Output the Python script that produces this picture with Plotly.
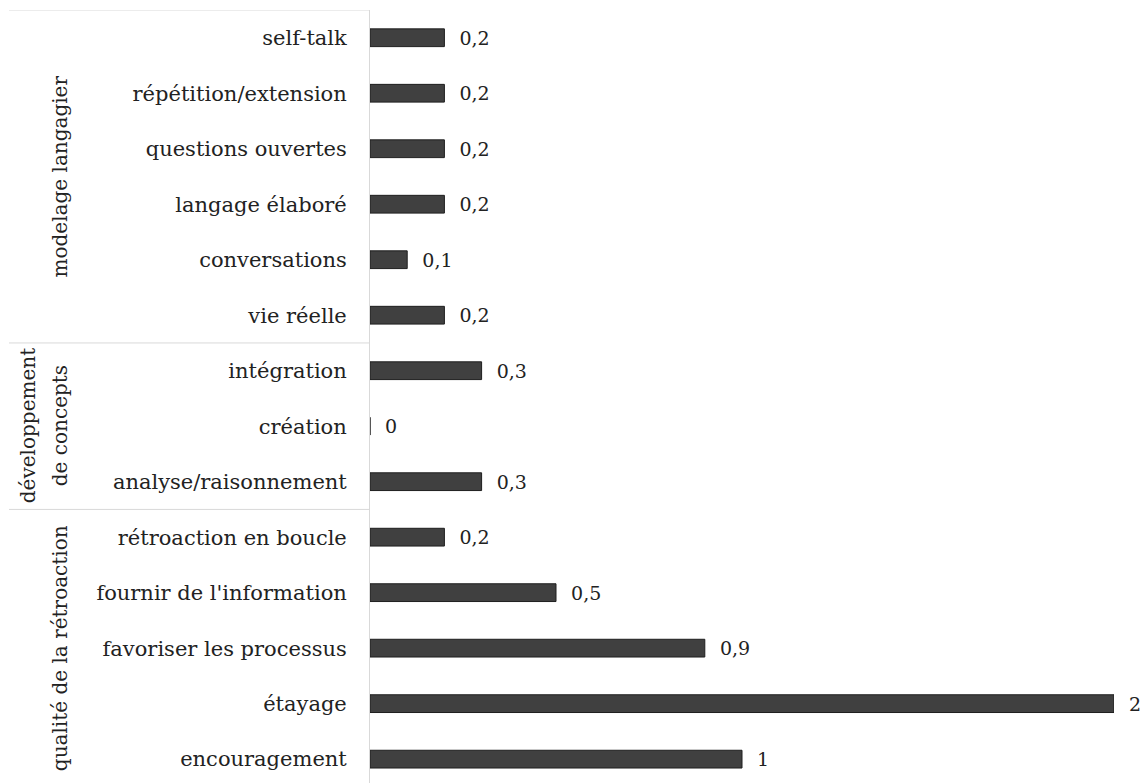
import plotly.graph_objects as go

categories = ["self-talk", "répétition/extension", "questions ouvertes", "langage élaboré",
              "conversations", "vie réelle", "intégration", "création", "analyse/raisonnement",
              "rétroaction en boucle", "fournir de l'information", "favoriser les processus",
              "étayage", "encouragement"]
values = [0.2, 0.2, 0.2, 0.2, 0.1, 0.2, 0.3, 0, 0.3, 0.2, 0.5, 0.9, 2, 1]
groups = [["modelage langagier"], ["développement", "de concepts"], ["qualité de la rétroaction"]]
group_sizes = [6, 3, 5]

def fmt(v):
    s = ("%g" % v).replace(".", ",")
    return "\u00a0\u00a0" + s

OFF = 8  # browser body margin
W, H = 1148 - OFF, 783 - OFF
L, R, T, B = 370 - OFF, 34, 10 - OFF, 0
pw = W - L - R

font = "DejaVu Serif"
ypos = list(range(len(categories)))

fig = go.Figure(go.Bar(
    x=values, y=ypos, orientation="h",
    width=0.32,
    marker=dict(color="#404040", line=dict(color="#1e1e1e", width=1)),
    text=[fmt(v) for v in values], textposition="outside", cliponaxis=False,
    constraintext="none",
    textfont=dict(family=font, size=19, color="#222222"),
))

fig.update_layout(
    width=W, height=H, margin=dict(l=L, r=R, t=T, b=B),
    plot_bgcolor="white", paper_bgcolor="white", showlegend=False,
    font=dict(family=font, size=20, color="#222222"),
    xaxis=dict(range=[0, 2], visible=False, showgrid=False, zeroline=False),
    yaxis=dict(range=[13.43, -0.5], tickvals=ypos, ticktext=categories,
               showgrid=False, zeroline=False, showline=True, linecolor="#d9d9d9",
               linewidth=1, ticks="", ticklabelstandoff=18,
               tickfont=dict(family=font, size=21, color="#222222")),
)

# group separators and labels
x0 = (9 - OFF - L) / pw
start = -0.5
for lines, n in zip(groups, group_sizes):
    fig.add_shape(type="line", xref="paper", yref="y", x0=x0, x1=0, y0=start, y1=start,
                  line=dict(color="#d9d9d9", width=1))
    mid = start + n / 2
    xs = [60] if len(lines) == 1 else [28, 60]
    for line_text, px in zip(lines, xs):
        fig.add_annotation(text=line_text, xref="paper", yref="y", x=(px - OFF - L) / pw, y=mid,
                           textangle=-90, showarrow=False, xanchor="center", yanchor="middle",
                           font=dict(family=font, size=20, color="#222222"))
    start += n

fig.write_html("out.html")
